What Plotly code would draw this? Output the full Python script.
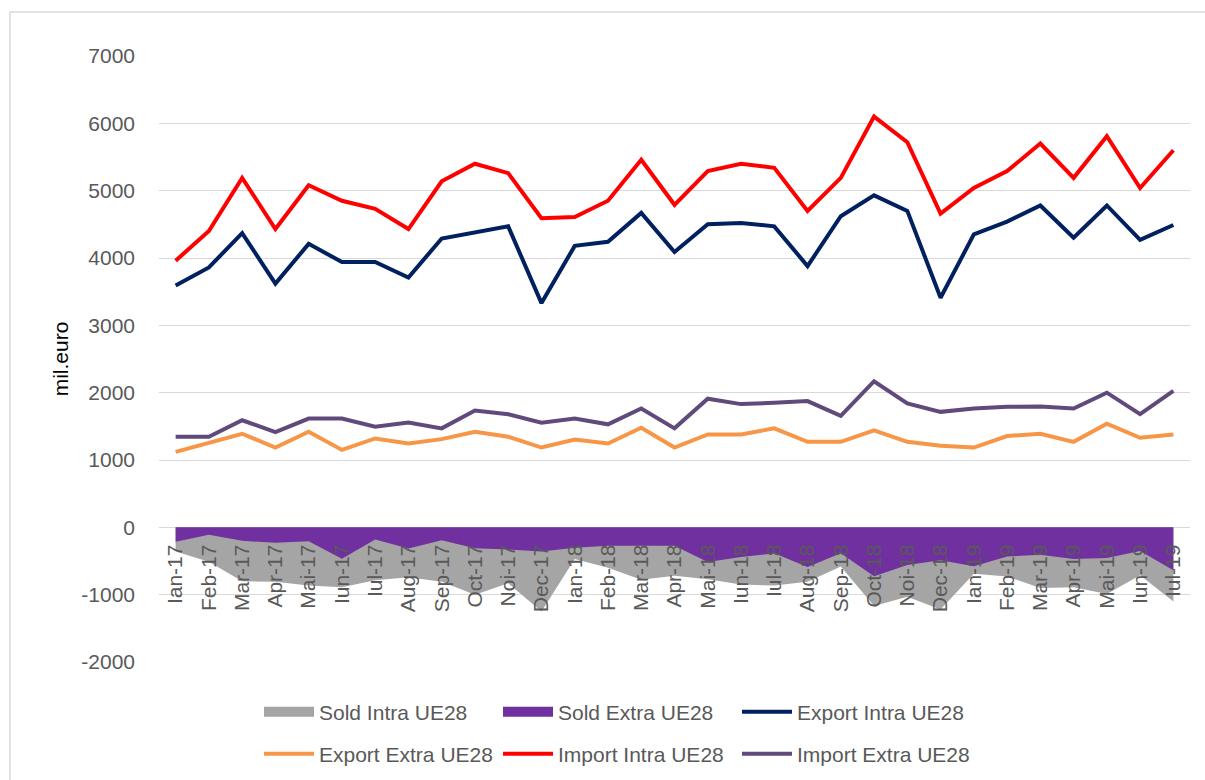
import plotly.graph_objects as go

months = ["Ian-17", "Feb-17", "Mar-17", "Apr-17", "Mai-17", "Iun-17", "Iul-17", "Aug-17", "Sep-17", "Oct-17", "Noi-17", "Dec-17",
          "Ian-18", "Feb-18", "Mar-18", "Apr-18", "Mai-18", "Iun-18", "Iul-18", "Aug-18", "Sep-18", "Oct-18", "Noi-18", "Dec-18",
          "Ian-19", "Feb-19", "Mar-19", "Apr-19", "Mai-19", "Iun-19", "Iul-19"]

sold_intra = [-360, -510, -800, -810, -865, -890, -785, -740, -810, -1000, -830, -1250,
              -470, -600, -780, -720, -770, -850, -865, -810, -580, -1170, -1030, -1220,
              -690, -730, -900, -890, -990, -710, -1100]
sold_extra = [-215, -110, -200, -230, -205, -465, -180, -315, -190, -310, -330, -360,
              -305, -275, -275, -275, -515, -440, -385, -590, -385, -728, -558, -490,
              -577, -433, -408, -470, -455, -350, -638]
export_intra = [3590, 3860, 4370, 3620, 4210, 3940, 3940, 3710, 4290, 4380, 4470, 3330,
                4180, 4240, 4670, 4090, 4500, 4520, 4470, 3880, 4620, 4930, 4700, 3410,
                4350, 4540, 4780, 4300, 4780, 4270, 4490]
export_extra = [1120, 1250, 1390, 1185, 1420, 1150, 1320, 1245, 1310, 1420, 1345, 1185,
                1305, 1245, 1480, 1185, 1380, 1380, 1470, 1270, 1270, 1440, 1270, 1210,
                1185, 1355, 1390, 1270, 1540, 1330, 1380]
import_intra = [3960, 4400, 5190, 4430, 5080, 4850, 4730, 4430, 5140, 5400, 5260, 4590,
                4610, 4850, 5460, 4790, 5290, 5400, 5340, 4700, 5190, 6100, 5720, 4660,
                5040, 5290, 5700, 5190, 5810, 5040, 5600]
import_extra = [1345, 1345, 1590, 1415, 1615, 1615, 1495, 1555, 1470, 1735, 1680, 1555,
                1615, 1530, 1765, 1470, 1910, 1830, 1850, 1875, 1655, 2170, 1840, 1715,
                1765, 1790, 1795, 1765, 2000, 1680, 2025]

y_ticks = [-2000, -1000, 0, 1000, 2000, 3000, 4000, 5000, 6000, 7000]
y_ticktext = [str(v) for v in y_ticks]

FONT = "Liberation Sans"
TXT = "#595959"
GRAY = "#A5A5A5"
PURPLE = "#7030A0"

fig = go.Figure()
# areas (legend shown through thick-line legend entries below)
fig.add_trace(go.Scatter(x=months, y=sold_intra, name="Sold Intra UE28", mode="none",
                         fill="tozeroy", fillcolor=GRAY, showlegend=False, legendgroup="si"))
fig.add_trace(go.Scatter(x=months, y=sold_extra, name="Sold Extra UE28", mode="none",
                         fill="tozeroy", fillcolor=PURPLE, showlegend=False, legendgroup="se"))
fig.add_trace(go.Scatter(x=[None], y=[None], name="Sold Intra UE28", mode="lines",
                         line=dict(color=GRAY, width=13), legend="legend", legendgroup="si",
                         hoverinfo="skip"))
fig.add_trace(go.Scatter(x=[None], y=[None], name="Sold Extra UE28", mode="lines",
                         line=dict(color=PURPLE, width=13), legend="legend", legendgroup="se",
                         hoverinfo="skip"))
fig.add_trace(go.Scatter(x=months, y=export_intra, name="Export Intra UE28", mode="lines",
                         line=dict(color="#002060", width=4), legend="legend"))
fig.add_trace(go.Scatter(x=months, y=export_extra, name="Export Extra UE28", mode="lines",
                         line=dict(color="#F79646", width=4), legend="legend2"))
fig.add_trace(go.Scatter(x=months, y=import_intra, name="Import Intra UE28", mode="lines",
                         line=dict(color="#FF0000", width=4), legend="legend2"))
fig.add_trace(go.Scatter(x=months, y=import_extra, name="Import Extra UE28", mode="lines",
                         line=dict(color="#604A7B", width=4), legend="legend2"))

leg_common = dict(orientation="h", xref="container", yref="container", xanchor="left",
                  yanchor="middle", font=dict(family=FONT, size=21, color=TXT),
                  entrywidth=174, entrywidthmode="pixels", itemwidth=50,
                  bgcolor="rgba(0,0,0,0)", itemclick=False)

fig.update_layout(
    width=1205, height=780,
    margin=dict(l=159, r=15, t=56, b=118, autoexpand=False),
    paper_bgcolor="white", plot_bgcolor="white",
    font=dict(family=FONT, size=21, color=TXT),
    showlegend=True,
    legend=dict(**leg_common, x=259 / 1205, y=1 - 712 / 780),
    legend2=dict(**leg_common, x=259 / 1205, y=1 - 754 / 780),
    xaxis=dict(type="category", categoryorder="array", categoryarray=months,
               range=[-0.5, len(months) - 0.5], anchor="free", position=2000 / 9000,
               showgrid=False, showline=False, zeroline=False, tickangle=-90,
               ticks="", ticklabelstandoff=12, automargin=False,
               tickfont=dict(family=FONT, size=21, color=TXT), layer="above traces"),
    yaxis=dict(range=[-2000, 7000], tickmode="array", tickvals=y_ticks, ticktext=y_ticktext,
               showgrid=True, gridcolor="#D9D9D9", gridwidth=1.3, zeroline=False,
               showline=False, ticks="", ticklabelstandoff=23, automargin=False,
               tickfont=dict(family=FONT, size=21, color=TXT),
               title=dict(text="mil.euro", font=dict(family=FONT, size=21, color="black"), standoff=6)),
    shapes=[dict(type="rect", xref="paper", yref="paper",
                 x0=(10 - 159) / 1031, x1=1.05, y0=-0.3, y1=(662 - 12) / 606,
                 line=dict(color="#D9D9D9", width=1.5), fillcolor="rgba(0,0,0,0)", layer="below")],
)

fig.write_html("out.html", config={"displayModeBar": False},
               post_script="document.body.style.margin='0px';")
